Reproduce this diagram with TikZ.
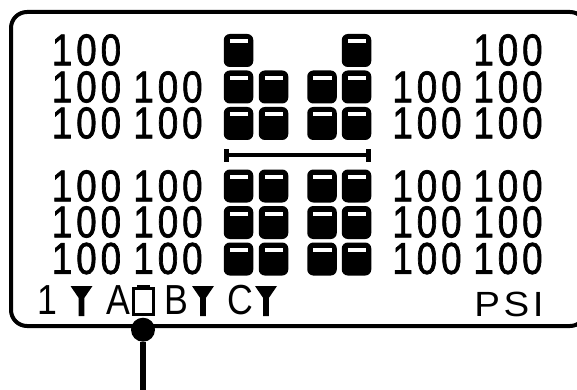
\documentclass[tikz,border=0pt]{standalone}
\usepackage{fontspec}
\setmainfont{Liberation Sans}
\newfontfamily\digitfont[FakeStretch=0.82,LetterSpace=9,FakeBold=1.5]{Liberation Sans}
\newfontfamily\chanfont[FakeStretch=0.85]{Liberation Sans}
\newfontfamily\unitfont[FakeStretch=1.1,LetterSpace=10]{Liberation Sans}
\usepackage{tikz}
\usetikzlibrary{positioning}
\newcommand{\antenna}[1]{\fill[shift={(#1,286)}] (-11,0) -- (11,0) -- (2.8,12) -- (2.8,30) -- (-2.8,30) -- (-2.8,12) -- cycle;}

\begin{document}
\begin{tikzpicture}[x=1pt,y=-1pt,
      panel/.style={draw=black, line width=4pt, rounded corners=16pt, fill=white,
                    minimum width=575pt, minimum height=314pt, inner sep=0pt},
      digits/.style={font=\digitfont\fontsize{44.7}{44.7}\selectfont, inner sep=0pt},
      chan/.style={font=\chanfont\fontsize{42}{42}\selectfont, inner sep=0pt},
      unit/.style={font=\unitfont\fontsize{35}{35}\selectfont, inner sep=0pt},
      block/.style={fill=black, rounded corners=6pt, minimum width=29.5pt, minimum height=33pt,
                    inner sep=0pt, path picture={
                      \fill[white, sharp corners] ([xshift=6pt,yshift=-5.5pt]path picture bounding box.north west)
                        rectangle ([xshift=-5pt,yshift=-9.5pt]path picture bounding box.north east);}},
      cell/.style={draw=black, line width=3pt, minimum width=20pt, minimum height=26pt, inner sep=0pt},
      bar/.style={line width=4pt},
      stub/.style={fill=black, minimum width=5pt, minimum height=13pt, inner sep=0pt},
      dot/.style={circle, fill=black, minimum size=24pt, inner sep=0pt},
      wire/.style={line width=6pt},
    ]
    \useasboundingbox (0,0) rectangle (577,390);
    \clip (0,0) rectangle (577,390);

    \node[panel] (frame) at (298.5,169) {};

    % upper digits
    \node[digits] (a1) at (86.5,50)  {100};
    \node[digits] (d1) at (508,50)   {100};
    \node[digits] (a2) at (86.5,87)  {100};
    \node[digits] (b2) at (168,87)   {100};
    \node[digits] (c2) at (427,87)   {100};
    \node[digits] (d2) at (508,87)   {100};
    \node[digits] (a3) at (86.5,123) {100};
    \node[digits] (b3) at (168,123)  {100};
    \node[digits] (c3) at (427,123)  {100};
    \node[digits] (d3) at (508,123)  {100};

    % lower digits
    \node[digits] (a4) at (86.5,186) {100};
    \node[digits] (b4) at (168,186)  {100};
    \node[digits] (c4) at (427,186)  {100};
    \node[digits] (d4) at (508,186)  {100};
    \node[digits] (a5) at (86.5,222) {100};
    \node[digits] (b5) at (168,222)  {100};
    \node[digits] (c5) at (427,222)  {100};
    \node[digits] (d5) at (508,222)  {100};
    \node[digits] (a6) at (86.5,258.5) {100};
    \node[digits] (b6) at (168,258.5)  {100};
    \node[digits] (c6) at (427,258.5)  {100};
    \node[digits] (d6) at (508,258.5)  {100};

    % upper blocks
    \node[block] (k11) at (238.5,50.5) {};
    \node[block] (k14) at (356.5,50.5) {};
    \node[block] (k21) at (238.5,87)   {};
    \node[block] (k22) at (273.5,87)   {};
    \node[block] (k23) at (322,87)     {};
    \node[block] (k24) at (356.5,87)   {};
    \node[block] (k31) at (238.5,123.5) {};
    \node[block] (k32) at (273.5,123.5) {};
    \node[block] (k33) at (322,123.5)   {};
    \node[block] (k34) at (356.5,123.5) {};

    % lower blocks
    \node[block] (k41) at (238.5,186) {};
    \node[block] (k42) at (273.5,186) {};
    \node[block] (k43) at (322,186)   {};
    \node[block] (k44) at (356.5,186) {};
    \node[block] (k51) at (238.5,222.5) {};
    \node[block] (k52) at (273.5,222.5) {};
    \node[block] (k53) at (322,222.5)   {};
    \node[block] (k54) at (356.5,222.5) {};
    \node[block] (k61) at (238.5,259) {};
    \node[block] (k62) at (273.5,259) {};
    \node[block] (k63) at (322,259)   {};
    \node[block] (k64) at (356.5,259) {};

    % span bar
    \node[stub] (barL) at (226.5,155) {};
    \node[stub] (barR) at (368.5,155) {};
    \draw[bar] (barL) -- (barR);

    % bottom line
    \node[chan] (one) at (47.5,300.5) {1};
    \antenna{81.5}
    \node[chan] (chA) at (118,300.5) {A};
    \node[cell] (batt) at (143,301.5) {};
    \fill (137,284.5) rectangle (150,288);
    \node[chan] (chB) at (176,300.5) {B};
    \antenna{203}
    \node[chan] (chC) at (240,300.5) {C};
    \antenna{266}
    \node[unit] (psi) at (509,304.5) {PSI};

    \node[dot] (pin) at (143,329.7) {};
    \coordinate (lead) at (143,390);
    \draw[wire] (pin) -- (lead);
  \end{tikzpicture}
\end{document}
